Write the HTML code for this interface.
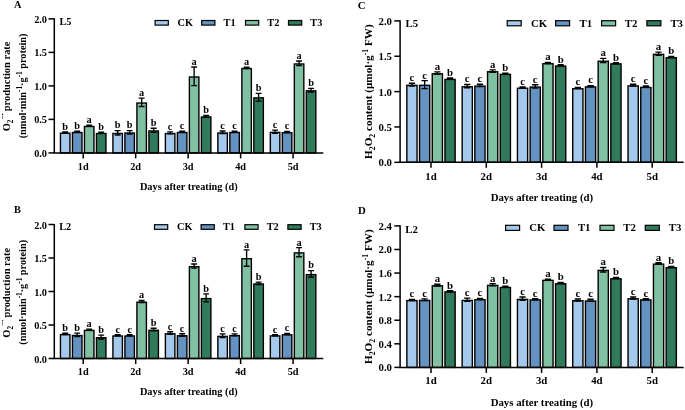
<!DOCTYPE html>
<html><head><meta charset="utf-8"><style>
html,body{margin:0;padding:0;background:#fff;width:685px;height:410px;overflow:hidden}
svg{display:block;will-change:transform}
text{font-family:"Liberation Serif", serif;font-weight:bold;fill:#000}
</style></head><body>
<svg width="685" height="410" viewBox="0 0 685 410">
<rect width="685" height="410" fill="#fff"/>
<rect x="60.45" y="133.2" width="9.5" height="19.7" fill="#a5c9ec" stroke="#000" stroke-width="1.4"/>
<path d="M65.2 131.86V133.14M62.26 131.86H68.14M62.26 133.14H68.14" stroke="#000" stroke-width="1.35" fill="none"/>
<text x="65.2" y="129.76" text-anchor="middle" font-size="10.3">b</text>
<rect x="72.45" y="132.53" width="9.5" height="20.37" fill="#6492c1" stroke="#000" stroke-width="1.4"/>
<path d="M77.2 131.23V132.43M74.26 131.23H80.14M74.26 132.43H80.14" stroke="#000" stroke-width="1.35" fill="none"/>
<text x="77.2" y="129.13" text-anchor="middle" font-size="10.3">b</text>
<rect x="84.45" y="126.5" width="9.5" height="26.4" fill="#80c1a3" stroke="#000" stroke-width="1.4"/>
<path d="M89.2 125.16V126.44M86.26 125.16H92.14M86.26 126.44H92.14" stroke="#000" stroke-width="1.35" fill="none"/>
<text x="89.2" y="123.06" text-anchor="middle" font-size="10.3">a</text>
<rect x="96.45" y="133.53" width="9.5" height="19.37" fill="#2f7b5b" stroke="#000" stroke-width="1.4"/>
<path d="M101.2 132.23V133.43M98.26 132.23H104.14M98.26 133.43H104.14" stroke="#000" stroke-width="1.35" fill="none"/>
<text x="101.2" y="130.13" text-anchor="middle" font-size="10.3">b</text>
<rect x="112.92" y="133.47" width="9.5" height="19.43" fill="#a5c9ec" stroke="#000" stroke-width="1.4"/>
<path d="M117.67 130.59V134.95M114.73 130.59H120.61M114.73 134.95H120.61" stroke="#000" stroke-width="1.35" fill="none"/>
<text x="117.67" y="128.49" text-anchor="middle" font-size="10.3">b</text>
<rect x="124.92" y="133" width="9.5" height="19.9" fill="#6492c1" stroke="#000" stroke-width="1.4"/>
<path d="M129.67 130.59V134.01M126.73 130.59H132.61M126.73 134.01H132.61" stroke="#000" stroke-width="1.35" fill="none"/>
<text x="129.67" y="128.49" text-anchor="middle" font-size="10.3">b</text>
<rect x="136.92" y="103.05" width="9.5" height="49.85" fill="#80c1a3" stroke="#000" stroke-width="1.4"/>
<path d="M141.67 98.16V106.54M138.73 98.16H144.61M138.73 106.54H144.61" stroke="#000" stroke-width="1.35" fill="none"/>
<text x="141.67" y="96.06" text-anchor="middle" font-size="10.3">a</text>
<rect x="148.92" y="130.99" width="9.5" height="21.91" fill="#2f7b5b" stroke="#000" stroke-width="1.4"/>
<path d="M153.67 128.24V132.34M150.73 128.24H156.61M150.73 132.34H156.61" stroke="#000" stroke-width="1.35" fill="none"/>
<text x="153.67" y="126.14" text-anchor="middle" font-size="10.3">b</text>
<rect x="165.39" y="133.53" width="9.5" height="19.37" fill="#a5c9ec" stroke="#000" stroke-width="1.4"/>
<path d="M170.14 131.86V133.81M167.2 131.86H173.08M167.2 133.81H173.08" stroke="#000" stroke-width="1.35" fill="none"/>
<text x="170.14" y="129.76" text-anchor="middle" font-size="10.3">c</text>
<rect x="177.39" y="132.53" width="9.5" height="20.37" fill="#6492c1" stroke="#000" stroke-width="1.4"/>
<path d="M182.14 131.23V132.43M179.2 131.23H185.08M179.2 132.43H185.08" stroke="#000" stroke-width="1.35" fill="none"/>
<text x="182.14" y="129.13" text-anchor="middle" font-size="10.3">c</text>
<rect x="189.39" y="76.99" width="9.5" height="75.91" fill="#80c1a3" stroke="#000" stroke-width="1.4"/>
<path d="M194.14 67V85.57M191.2 67H197.08M191.2 85.57H197.08" stroke="#000" stroke-width="1.35" fill="none"/>
<text x="194.14" y="64.9" text-anchor="middle" font-size="10.3">a</text>
<rect x="201.39" y="116.99" width="9.5" height="35.91" fill="#2f7b5b" stroke="#000" stroke-width="1.4"/>
<path d="M206.14 115.31V117.26M203.2 115.31H209.08M203.2 117.26H209.08" stroke="#000" stroke-width="1.35" fill="none"/>
<text x="206.14" y="113.21" text-anchor="middle" font-size="10.3">b</text>
<rect x="217.86" y="133" width="9.5" height="19.9" fill="#a5c9ec" stroke="#000" stroke-width="1.4"/>
<path d="M222.61 130.99V133.61M219.67 130.99H225.55M219.67 133.61H225.55" stroke="#000" stroke-width="1.35" fill="none"/>
<text x="222.61" y="128.89" text-anchor="middle" font-size="10.3">c</text>
<rect x="229.86" y="132.53" width="9.5" height="20.37" fill="#6492c1" stroke="#000" stroke-width="1.4"/>
<path d="M234.61 131.23V132.43M231.67 131.23H237.55M231.67 132.43H237.55" stroke="#000" stroke-width="1.35" fill="none"/>
<text x="234.61" y="129.13" text-anchor="middle" font-size="10.3">c</text>
<rect x="241.86" y="68.55" width="9.5" height="84.35" fill="#80c1a3" stroke="#000" stroke-width="1.4"/>
<path d="M246.61 67.25V68.45M243.67 67.25H249.55M243.67 68.45H249.55" stroke="#000" stroke-width="1.35" fill="none"/>
<text x="246.61" y="65.15" text-anchor="middle" font-size="10.3">a</text>
<rect x="253.86" y="97.89" width="9.5" height="55.01" fill="#2f7b5b" stroke="#000" stroke-width="1.4"/>
<path d="M258.61 93.34V101.05M255.67 93.34H261.55M255.67 101.05H261.55" stroke="#000" stroke-width="1.35" fill="none"/>
<text x="258.61" y="91.24" text-anchor="middle" font-size="10.3">b</text>
<rect x="270.33" y="132.4" width="9.5" height="20.5" fill="#a5c9ec" stroke="#000" stroke-width="1.4"/>
<path d="M275.08 130.05V133.34M272.14 130.05H278.02M272.14 133.34H278.02" stroke="#000" stroke-width="1.35" fill="none"/>
<text x="275.08" y="127.95" text-anchor="middle" font-size="10.3">c</text>
<rect x="282.33" y="132.73" width="9.5" height="20.17" fill="#6492c1" stroke="#000" stroke-width="1.4"/>
<path d="M287.08 131.43V132.63M284.14 131.43H290.02M284.14 132.63H290.02" stroke="#000" stroke-width="1.35" fill="none"/>
<text x="287.08" y="129.33" text-anchor="middle" font-size="10.3">c</text>
<rect x="294.33" y="63.99" width="9.5" height="88.91" fill="#80c1a3" stroke="#000" stroke-width="1.4"/>
<path d="M299.08 60.97V65.6M296.14 60.97H302.02M296.14 65.6H302.02" stroke="#000" stroke-width="1.35" fill="none"/>
<text x="299.08" y="58.87" text-anchor="middle" font-size="10.3">a</text>
<rect x="306.33" y="90.86" width="9.5" height="62.04" fill="#2f7b5b" stroke="#000" stroke-width="1.4"/>
<path d="M311.08 88.31V92M308.14 88.31H314.02M308.14 92H314.02" stroke="#000" stroke-width="1.35" fill="none"/>
<text x="311.08" y="86.21" text-anchor="middle" font-size="10.3">b</text>
<path d="M54.3 18.3V152.9H323.3" stroke="#000" stroke-width="1.5" fill="none"/>
<path d="M48.5 152.9H54.3" stroke="#000" stroke-width="1.5"/>
<text x="47" y="156.9" text-anchor="end" font-size="10.3">0.0</text>
<path d="M48.5 119.4H54.3" stroke="#000" stroke-width="1.5"/>
<text x="47" y="123.4" text-anchor="end" font-size="10.3">0.5</text>
<path d="M48.5 85.9H54.3" stroke="#000" stroke-width="1.5"/>
<text x="47" y="89.9" text-anchor="end" font-size="10.3">1.0</text>
<path d="M48.5 52.4H54.3" stroke="#000" stroke-width="1.5"/>
<text x="47" y="56.4" text-anchor="end" font-size="10.3">1.5</text>
<path d="M48.5 18.9H54.3" stroke="#000" stroke-width="1.5"/>
<text x="47" y="22.9" text-anchor="end" font-size="10.3">2.0</text>
<path d="M83.2 152.9V158.4" stroke="#000" stroke-width="1.5"/>
<text x="83.2" y="169.6" text-anchor="middle" font-size="10.3">1d</text>
<path d="M135.67 152.9V158.4" stroke="#000" stroke-width="1.5"/>
<text x="135.67" y="169.6" text-anchor="middle" font-size="10.3">2d</text>
<path d="M188.14 152.9V158.4" stroke="#000" stroke-width="1.5"/>
<text x="188.14" y="169.6" text-anchor="middle" font-size="10.3">3d</text>
<path d="M240.61 152.9V158.4" stroke="#000" stroke-width="1.5"/>
<text x="240.61" y="169.6" text-anchor="middle" font-size="10.3">4d</text>
<path d="M293.08 152.9V158.4" stroke="#000" stroke-width="1.5"/>
<text x="293.08" y="169.6" text-anchor="middle" font-size="10.3">5d</text>
<text x="188.8" y="189.6" text-anchor="middle" font-size="10.3">Days after treating (d)</text>
<rect x="155.1" y="20.5" width="13.2" height="4.6" fill="#a5c9ec" stroke="#000" stroke-width="1.2"/>
<text x="177.6" y="25.8" font-size="10.3">CK</text>
<rect x="201.7" y="20.5" width="13.2" height="4.6" fill="#6492c1" stroke="#000" stroke-width="1.2"/>
<text x="223.6" y="25.8" font-size="10.3">T1</text>
<rect x="245.5" y="20.5" width="13.2" height="4.6" fill="#80c1a3" stroke="#000" stroke-width="1.2"/>
<text x="267.3" y="25.8" font-size="10.3">T2</text>
<rect x="288.5" y="20.5" width="13.2" height="4.6" fill="#2f7b5b" stroke="#000" stroke-width="1.2"/>
<text x="310.3" y="25.8" font-size="10.3">T3</text>
<text x="14" y="8" font-size="10.3">A</text>
<text x="59.5" y="25" font-size="10.3">L5</text>
<text transform="translate(10.3 86.4) rotate(-90)" text-anchor="middle" font-size="10.45">O<tspan font-size="7.21" dy="2.2">2</tspan><tspan font-size="7.21" dy="-7.3">−·</tspan><tspan dy="5.1" dx="-0.8"> production rate</tspan></text>
<text transform="translate(26.3 85.9) rotate(-90)" text-anchor="middle" font-size="10.3">(nmol·min<tspan font-size="7.21" dy="-4">-1</tspan><tspan dy="4">·g</tspan><tspan font-size="7.21" dy="-4">-1</tspan><tspan dy="4"> protein)</tspan></text>
<rect x="60.45" y="334.58" width="9.5" height="23.92" fill="#a5c9ec" stroke="#000" stroke-width="1.4"/>
<path d="M65.2 333.24V334.52M62.26 333.24H68.14M62.26 334.52H68.14" stroke="#000" stroke-width="1.35" fill="none"/>
<text x="65.2" y="331.14" text-anchor="middle" font-size="10.3">b</text>
<rect x="72.45" y="335.52" width="9.5" height="22.98" fill="#6492c1" stroke="#000" stroke-width="1.4"/>
<path d="M77.2 333.17V336.46M74.26 333.17H80.14M74.26 336.46H80.14" stroke="#000" stroke-width="1.35" fill="none"/>
<text x="77.2" y="331.07" text-anchor="middle" font-size="10.3">b</text>
<rect x="84.45" y="330.42" width="9.5" height="28.08" fill="#80c1a3" stroke="#000" stroke-width="1.4"/>
<path d="M89.2 329.08V330.36M86.26 329.08H92.14M86.26 330.36H92.14" stroke="#000" stroke-width="1.35" fill="none"/>
<text x="89.2" y="326.98" text-anchor="middle" font-size="10.3">a</text>
<rect x="96.45" y="337.73" width="9.5" height="20.77" fill="#2f7b5b" stroke="#000" stroke-width="1.4"/>
<path d="M101.2 335.05V339.01M98.26 335.05H104.14M98.26 339.01H104.14" stroke="#000" stroke-width="1.35" fill="none"/>
<text x="101.2" y="332.95" text-anchor="middle" font-size="10.3">b</text>
<rect x="112.92" y="335.99" width="9.5" height="22.51" fill="#a5c9ec" stroke="#000" stroke-width="1.4"/>
<path d="M117.67 334.69V335.89M114.73 334.69H120.61M114.73 335.89H120.61" stroke="#000" stroke-width="1.35" fill="none"/>
<text x="117.67" y="332.59" text-anchor="middle" font-size="10.3">c</text>
<rect x="124.92" y="335.99" width="9.5" height="22.51" fill="#6492c1" stroke="#000" stroke-width="1.4"/>
<path d="M129.67 334.69V335.89M126.73 334.69H132.61M126.73 335.89H132.61" stroke="#000" stroke-width="1.35" fill="none"/>
<text x="129.67" y="332.59" text-anchor="middle" font-size="10.3">c</text>
<rect x="136.92" y="302.22" width="9.5" height="56.28" fill="#80c1a3" stroke="#000" stroke-width="1.4"/>
<path d="M141.67 300.54V302.49M138.73 300.54H144.61M138.73 302.49H144.61" stroke="#000" stroke-width="1.35" fill="none"/>
<text x="141.67" y="298.44" text-anchor="middle" font-size="10.3">a</text>
<rect x="148.92" y="330.29" width="9.5" height="28.21" fill="#2f7b5b" stroke="#000" stroke-width="1.4"/>
<path d="M153.67 328.28V330.9M150.73 328.28H156.61M150.73 330.9H156.61" stroke="#000" stroke-width="1.35" fill="none"/>
<text x="153.67" y="326.18" text-anchor="middle" font-size="10.3">b</text>
<rect x="165.39" y="333.77" width="9.5" height="24.73" fill="#a5c9ec" stroke="#000" stroke-width="1.4"/>
<path d="M170.14 331.76V334.38M167.2 331.76H173.08M167.2 334.38H173.08" stroke="#000" stroke-width="1.35" fill="none"/>
<text x="170.14" y="329.66" text-anchor="middle" font-size="10.3">c</text>
<rect x="177.39" y="335.78" width="9.5" height="22.72" fill="#6492c1" stroke="#000" stroke-width="1.4"/>
<path d="M182.14 333.77V336.39M179.2 333.77H185.08M179.2 336.39H185.08" stroke="#000" stroke-width="1.35" fill="none"/>
<text x="182.14" y="331.67" text-anchor="middle" font-size="10.3">c</text>
<rect x="189.39" y="266.71" width="9.5" height="91.79" fill="#80c1a3" stroke="#000" stroke-width="1.4"/>
<path d="M194.14 263.96V268.06M191.2 263.96H197.08M191.2 268.06H197.08" stroke="#000" stroke-width="1.35" fill="none"/>
<text x="194.14" y="261.86" text-anchor="middle" font-size="10.3">a</text>
<rect x="201.39" y="298.6" width="9.5" height="59.9" fill="#2f7b5b" stroke="#000" stroke-width="1.4"/>
<path d="M206.14 293.91V301.89M203.2 293.91H209.08M203.2 301.89H209.08" stroke="#000" stroke-width="1.35" fill="none"/>
<text x="206.14" y="291.81" text-anchor="middle" font-size="10.3">b</text>
<rect x="217.86" y="336.39" width="9.5" height="22.11" fill="#a5c9ec" stroke="#000" stroke-width="1.4"/>
<path d="M222.61 333.84V337.53M219.67 333.84H225.55M219.67 337.53H225.55" stroke="#000" stroke-width="1.35" fill="none"/>
<text x="222.61" y="331.74" text-anchor="middle" font-size="10.3">c</text>
<rect x="229.86" y="335.58" width="9.5" height="22.92" fill="#6492c1" stroke="#000" stroke-width="1.4"/>
<path d="M234.61 333.91V335.86M231.67 333.91H237.55M231.67 335.86H237.55" stroke="#000" stroke-width="1.35" fill="none"/>
<text x="234.61" y="331.81" text-anchor="middle" font-size="10.3">c</text>
<rect x="241.86" y="258.73" width="9.5" height="99.77" fill="#80c1a3" stroke="#000" stroke-width="1.4"/>
<path d="M246.61 249.82V266.25M243.67 249.82H249.55M243.67 266.25H249.55" stroke="#000" stroke-width="1.35" fill="none"/>
<text x="246.61" y="247.72" text-anchor="middle" font-size="10.3">a</text>
<rect x="253.86" y="283.99" width="9.5" height="74.51" fill="#2f7b5b" stroke="#000" stroke-width="1.4"/>
<path d="M258.61 282.12V284.47M255.67 282.12H261.55M255.67 284.47H261.55" stroke="#000" stroke-width="1.35" fill="none"/>
<text x="258.61" y="280.02" text-anchor="middle" font-size="10.3">b</text>
<rect x="270.33" y="335.92" width="9.5" height="22.58" fill="#a5c9ec" stroke="#000" stroke-width="1.4"/>
<path d="M275.08 334.62V335.82M272.14 334.62H278.02M272.14 335.82H278.02" stroke="#000" stroke-width="1.35" fill="none"/>
<text x="275.08" y="332.52" text-anchor="middle" font-size="10.3">c</text>
<rect x="282.33" y="334.78" width="9.5" height="23.72" fill="#6492c1" stroke="#000" stroke-width="1.4"/>
<path d="M287.08 333.48V334.68M284.14 333.48H290.02M284.14 334.68H290.02" stroke="#000" stroke-width="1.35" fill="none"/>
<text x="287.08" y="331.38" text-anchor="middle" font-size="10.3">c</text>
<rect x="294.33" y="252.91" width="9.5" height="105.59" fill="#80c1a3" stroke="#000" stroke-width="1.4"/>
<path d="M299.08 247.68V256.73M296.14 247.68H302.02M296.14 256.73H302.02" stroke="#000" stroke-width="1.35" fill="none"/>
<text x="299.08" y="245.58" text-anchor="middle" font-size="10.3">a</text>
<rect x="306.33" y="274.61" width="9.5" height="83.89" fill="#2f7b5b" stroke="#000" stroke-width="1.4"/>
<path d="M311.08 270.59V277.23M308.14 270.59H314.02M308.14 277.23H314.02" stroke="#000" stroke-width="1.35" fill="none"/>
<text x="311.08" y="268.49" text-anchor="middle" font-size="10.3">b</text>
<path d="M54.3 223.9V358.5H323.3" stroke="#000" stroke-width="1.5" fill="none"/>
<path d="M48.5 358.5H54.3" stroke="#000" stroke-width="1.5"/>
<text x="47" y="362.5" text-anchor="end" font-size="10.3">0.0</text>
<path d="M48.5 325H54.3" stroke="#000" stroke-width="1.5"/>
<text x="47" y="329" text-anchor="end" font-size="10.3">0.5</text>
<path d="M48.5 291.5H54.3" stroke="#000" stroke-width="1.5"/>
<text x="47" y="295.5" text-anchor="end" font-size="10.3">1.0</text>
<path d="M48.5 258H54.3" stroke="#000" stroke-width="1.5"/>
<text x="47" y="262" text-anchor="end" font-size="10.3">1.5</text>
<path d="M48.5 224.5H54.3" stroke="#000" stroke-width="1.5"/>
<text x="47" y="228.5" text-anchor="end" font-size="10.3">2.0</text>
<path d="M83.2 358.5V364" stroke="#000" stroke-width="1.5"/>
<text x="83.2" y="375.2" text-anchor="middle" font-size="10.3">1d</text>
<path d="M135.67 358.5V364" stroke="#000" stroke-width="1.5"/>
<text x="135.67" y="375.2" text-anchor="middle" font-size="10.3">2d</text>
<path d="M188.14 358.5V364" stroke="#000" stroke-width="1.5"/>
<text x="188.14" y="375.2" text-anchor="middle" font-size="10.3">3d</text>
<path d="M240.61 358.5V364" stroke="#000" stroke-width="1.5"/>
<text x="240.61" y="375.2" text-anchor="middle" font-size="10.3">4d</text>
<path d="M293.08 358.5V364" stroke="#000" stroke-width="1.5"/>
<text x="293.08" y="375.2" text-anchor="middle" font-size="10.3">5d</text>
<text x="188.8" y="395.2" text-anchor="middle" font-size="10.3">Days after treating (d)</text>
<rect x="154.5" y="224.7" width="13.2" height="4.6" fill="#a5c9ec" stroke="#000" stroke-width="1.2"/>
<text x="177" y="230" font-size="10.3">CK</text>
<rect x="201.1" y="224.7" width="13.2" height="4.6" fill="#6492c1" stroke="#000" stroke-width="1.2"/>
<text x="223" y="230" font-size="10.3">T1</text>
<rect x="244.9" y="224.7" width="13.2" height="4.6" fill="#80c1a3" stroke="#000" stroke-width="1.2"/>
<text x="266.7" y="230" font-size="10.3">T2</text>
<rect x="287.9" y="224.7" width="13.2" height="4.6" fill="#2f7b5b" stroke="#000" stroke-width="1.2"/>
<text x="309.7" y="230" font-size="10.3">T3</text>
<text x="14" y="213.1" font-size="10.3">B</text>
<text x="59.2" y="230.1" font-size="10.3">L2</text>
<text transform="translate(10.3 292.8) rotate(-90)" text-anchor="middle" font-size="10.45">O<tspan font-size="7.21" dy="2.2">2</tspan><tspan font-size="7.21" dy="-7.3">−·</tspan><tspan dy="5.1" dx="-0.8"> production rate</tspan></text>
<text transform="translate(26.3 292.3) rotate(-90)" text-anchor="middle" font-size="10.3">(nmol·min<tspan font-size="7.21" dy="-4">-1</tspan><tspan dy="4">·g</tspan><tspan font-size="7.21" dy="-4">-1</tspan><tspan dy="4"> protein)</tspan></text>
<rect x="406.85" y="85.33" width="10.2" height="76.97" fill="#a5c9ec" stroke="#000" stroke-width="1.4"/>
<path d="M411.95 83.22V86.03M408.82 83.22H415.08M408.82 86.03H415.08" stroke="#000" stroke-width="1.35" fill="none"/>
<text x="411.95" y="81.12" text-anchor="middle" font-size="10.8">c</text>
<rect x="419.55" y="85.33" width="10.2" height="76.97" fill="#6492c1" stroke="#000" stroke-width="1.4"/>
<path d="M424.65 80.69V88.56M421.52 80.69H427.78M421.52 88.56H427.78" stroke="#000" stroke-width="1.35" fill="none"/>
<text x="424.65" y="78.59" text-anchor="middle" font-size="10.8">c</text>
<rect x="432.25" y="73.81" width="10.2" height="88.49" fill="#80c1a3" stroke="#000" stroke-width="1.4"/>
<path d="M437.35 71.91V74.3M434.22 71.91H440.48M434.22 74.3H440.48" stroke="#000" stroke-width="1.35" fill="none"/>
<text x="437.35" y="69.81" text-anchor="middle" font-size="10.8">a</text>
<rect x="444.95" y="79.43" width="10.2" height="82.87" fill="#2f7b5b" stroke="#000" stroke-width="1.4"/>
<path d="M450.05 78.02V79.43M446.92 78.02H453.18M446.92 79.43H453.18" stroke="#000" stroke-width="1.35" fill="none"/>
<text x="450.05" y="75.92" text-anchor="middle" font-size="10.8">b</text>
<rect x="462.15" y="86.8" width="10.2" height="75.5" fill="#a5c9ec" stroke="#000" stroke-width="1.4"/>
<path d="M467.25 84.48V87.72M464.12 84.48H470.38M464.12 87.72H470.38" stroke="#000" stroke-width="1.35" fill="none"/>
<text x="467.25" y="82.38" text-anchor="middle" font-size="10.8">c</text>
<rect x="474.85" y="86.1" width="10.2" height="76.2" fill="#6492c1" stroke="#000" stroke-width="1.4"/>
<path d="M479.95 84.2V86.6M476.82 84.2H483.08M476.82 86.6H483.08" stroke="#000" stroke-width="1.35" fill="none"/>
<text x="479.95" y="82.1" text-anchor="middle" font-size="10.8">c</text>
<rect x="487.55" y="71.77" width="10.2" height="90.53" fill="#80c1a3" stroke="#000" stroke-width="1.4"/>
<path d="M492.65 69.8V72.34M489.52 69.8H495.78M489.52 72.34H495.78" stroke="#000" stroke-width="1.35" fill="none"/>
<text x="492.65" y="67.7" text-anchor="middle" font-size="10.8">a</text>
<rect x="500.25" y="74.37" width="10.2" height="87.93" fill="#2f7b5b" stroke="#000" stroke-width="1.4"/>
<path d="M505.35 73.07V74.27M502.22 73.07H508.48M502.22 74.27H508.48" stroke="#000" stroke-width="1.35" fill="none"/>
<text x="505.35" y="70.97" text-anchor="middle" font-size="10.8">b</text>
<rect x="517.45" y="88.28" width="10.2" height="74.02" fill="#a5c9ec" stroke="#000" stroke-width="1.4"/>
<path d="M522.55 86.98V88.18M519.42 86.98H525.68M519.42 88.18H525.68" stroke="#000" stroke-width="1.35" fill="none"/>
<text x="522.55" y="84.88" text-anchor="middle" font-size="10.8">c</text>
<rect x="530.15" y="87.08" width="10.2" height="75.22" fill="#6492c1" stroke="#000" stroke-width="1.4"/>
<path d="M535.25 84.77V88M532.12 84.77H538.38M532.12 88H538.38" stroke="#000" stroke-width="1.35" fill="none"/>
<text x="535.25" y="82.67" text-anchor="middle" font-size="10.8">c</text>
<rect x="542.85" y="63.69" width="10.2" height="98.61" fill="#80c1a3" stroke="#000" stroke-width="1.4"/>
<path d="M547.95 62.39V63.59M544.82 62.39H551.08M544.82 63.59H551.08" stroke="#000" stroke-width="1.35" fill="none"/>
<text x="547.95" y="60.29" text-anchor="middle" font-size="10.8">a</text>
<rect x="555.55" y="66.08" width="10.2" height="96.22" fill="#2f7b5b" stroke="#000" stroke-width="1.4"/>
<path d="M560.65 64.78V65.98M557.52 64.78H563.78M557.52 65.98H563.78" stroke="#000" stroke-width="1.35" fill="none"/>
<text x="560.65" y="62.68" text-anchor="middle" font-size="10.8">b</text>
<rect x="572.75" y="88.7" width="10.2" height="73.6" fill="#a5c9ec" stroke="#000" stroke-width="1.4"/>
<path d="M577.85 87.4V88.6M574.72 87.4H580.98M574.72 88.6H580.98" stroke="#000" stroke-width="1.35" fill="none"/>
<text x="577.85" y="85.3" text-anchor="middle" font-size="10.8">c</text>
<rect x="585.45" y="86.87" width="10.2" height="75.43" fill="#6492c1" stroke="#000" stroke-width="1.4"/>
<path d="M590.55 85.57V86.77M587.42 85.57H593.68M587.42 86.77H593.68" stroke="#000" stroke-width="1.35" fill="none"/>
<text x="590.55" y="83.47" text-anchor="middle" font-size="10.8">c</text>
<rect x="598.15" y="61.23" width="10.2" height="101.07" fill="#80c1a3" stroke="#000" stroke-width="1.4"/>
<path d="M603.25 58.42V62.64M600.12 58.42H606.38M600.12 62.64H606.38" stroke="#000" stroke-width="1.35" fill="none"/>
<text x="603.25" y="56.32" text-anchor="middle" font-size="10.8">a</text>
<rect x="610.85" y="63.9" width="10.2" height="98.4" fill="#2f7b5b" stroke="#000" stroke-width="1.4"/>
<path d="M615.95 62.6V63.8M612.82 62.6H619.08M612.82 63.8H619.08" stroke="#000" stroke-width="1.35" fill="none"/>
<text x="615.95" y="60.5" text-anchor="middle" font-size="10.8">b</text>
<rect x="628.05" y="85.89" width="10.2" height="76.41" fill="#a5c9ec" stroke="#000" stroke-width="1.4"/>
<path d="M633.15 84.2V86.18M630.02 84.2H636.28M630.02 86.18H636.28" stroke="#000" stroke-width="1.35" fill="none"/>
<text x="633.15" y="82.1" text-anchor="middle" font-size="10.8">c</text>
<rect x="640.75" y="87.44" width="10.2" height="74.87" fill="#6492c1" stroke="#000" stroke-width="1.4"/>
<path d="M645.85 86.03V87.44M642.72 86.03H648.98M642.72 87.44H648.98" stroke="#000" stroke-width="1.35" fill="none"/>
<text x="645.85" y="83.93" text-anchor="middle" font-size="10.8">c</text>
<rect x="653.45" y="54.35" width="10.2" height="107.95" fill="#80c1a3" stroke="#000" stroke-width="1.4"/>
<path d="M658.55 52.1V55.2M655.42 52.1H661.68M655.42 55.2H661.68" stroke="#000" stroke-width="1.35" fill="none"/>
<text x="658.55" y="50" text-anchor="middle" font-size="10.8">a</text>
<rect x="666.15" y="57.72" width="10.2" height="104.58" fill="#2f7b5b" stroke="#000" stroke-width="1.4"/>
<path d="M671.25 56.42V57.62M668.12 56.42H674.38M668.12 57.62H674.38" stroke="#000" stroke-width="1.35" fill="none"/>
<text x="671.25" y="54.32" text-anchor="middle" font-size="10.8">b</text>
<path d="M400.1 20.3V162.3H683.7" stroke="#000" stroke-width="1.5" fill="none"/>
<path d="M394.3 162.3H400.1" stroke="#000" stroke-width="1.5"/>
<text x="392" y="166.3" text-anchor="end" font-size="10.8">0.0</text>
<path d="M394.3 126.95H400.1" stroke="#000" stroke-width="1.5"/>
<text x="392" y="130.95" text-anchor="end" font-size="10.8">0.5</text>
<path d="M394.3 91.6H400.1" stroke="#000" stroke-width="1.5"/>
<text x="392" y="95.6" text-anchor="end" font-size="10.8">1.0</text>
<path d="M394.3 56.25H400.1" stroke="#000" stroke-width="1.5"/>
<text x="392" y="60.25" text-anchor="end" font-size="10.8">1.5</text>
<path d="M394.3 20.9H400.1" stroke="#000" stroke-width="1.5"/>
<text x="392" y="24.9" text-anchor="end" font-size="10.8">2.0</text>
<path d="M431 162.3V167.8" stroke="#000" stroke-width="1.5"/>
<text x="431" y="179.5" text-anchor="middle" font-size="10.8">1d</text>
<path d="M486.3 162.3V167.8" stroke="#000" stroke-width="1.5"/>
<text x="486.3" y="179.5" text-anchor="middle" font-size="10.8">2d</text>
<path d="M541.6 162.3V167.8" stroke="#000" stroke-width="1.5"/>
<text x="541.6" y="179.5" text-anchor="middle" font-size="10.8">3d</text>
<path d="M596.9 162.3V167.8" stroke="#000" stroke-width="1.5"/>
<text x="596.9" y="179.5" text-anchor="middle" font-size="10.8">4d</text>
<path d="M652.2 162.3V167.8" stroke="#000" stroke-width="1.5"/>
<text x="652.2" y="179.5" text-anchor="middle" font-size="10.8">5d</text>
<text x="541.9" y="200.7" text-anchor="middle" font-size="10.8">Days after treating (d)</text>
<rect x="507.2" y="20.7" width="14" height="5.1" fill="#a5c9ec" stroke="#000" stroke-width="1.2"/>
<text x="530.9" y="26.7" font-size="10.8">CK</text>
<rect x="555.6" y="20.7" width="14" height="5.1" fill="#6492c1" stroke="#000" stroke-width="1.2"/>
<text x="579.5" y="26.7" font-size="10.8">T1</text>
<rect x="601.6" y="20.7" width="14" height="5.1" fill="#80c1a3" stroke="#000" stroke-width="1.2"/>
<text x="624.8" y="26.7" font-size="10.8">T2</text>
<rect x="646.9" y="20.7" width="14" height="5.1" fill="#2f7b5b" stroke="#000" stroke-width="1.2"/>
<text x="670.4" y="26.7" font-size="10.8">T3</text>
<text x="357.8" y="9.2" font-size="10.8">C</text>
<text x="405.5" y="27" font-size="10.8">L5</text>
<text transform="translate(372.3 91.6) rotate(-90)" text-anchor="middle" font-size="11.2">H<tspan font-size="7.84" dy="2.2">2</tspan><tspan dy="-2.2">O</tspan><tspan font-size="7.84" dy="2.2">2</tspan><tspan dy="-2.2"> content (μmol·g</tspan><tspan font-size="7.84" dy="-4">-1</tspan><tspan dy="4"> FW)</tspan></text>
<rect x="406.85" y="300.61" width="10.2" height="66.79" fill="#a5c9ec" stroke="#000" stroke-width="1.4"/>
<path d="M411.95 299.31V300.51M408.82 299.31H415.08M408.82 300.51H415.08" stroke="#000" stroke-width="1.35" fill="none"/>
<text x="411.95" y="297.21" text-anchor="middle" font-size="10.8">c</text>
<rect x="419.55" y="300.43" width="10.2" height="66.97" fill="#6492c1" stroke="#000" stroke-width="1.4"/>
<path d="M424.65 298.85V300.62M421.52 298.85H427.78M421.52 300.62H427.78" stroke="#000" stroke-width="1.35" fill="none"/>
<text x="424.65" y="296.75" text-anchor="middle" font-size="10.8">c</text>
<rect x="432.25" y="285.79" width="10.2" height="81.61" fill="#80c1a3" stroke="#000" stroke-width="1.4"/>
<path d="M437.35 284.2V285.97M434.22 284.2H440.48M434.22 285.97H440.48" stroke="#000" stroke-width="1.35" fill="none"/>
<text x="437.35" y="282.1" text-anchor="middle" font-size="10.8">a</text>
<rect x="444.95" y="291.9" width="10.2" height="75.5" fill="#2f7b5b" stroke="#000" stroke-width="1.4"/>
<path d="M450.05 290.6V291.8M446.92 290.6H453.18M446.92 291.8H453.18" stroke="#000" stroke-width="1.35" fill="none"/>
<text x="450.05" y="288.5" text-anchor="middle" font-size="10.8">b</text>
<rect x="462.15" y="300.43" width="10.2" height="66.97" fill="#a5c9ec" stroke="#000" stroke-width="1.4"/>
<path d="M467.25 298.08V301.39M464.12 298.08H470.38M464.12 301.39H470.38" stroke="#000" stroke-width="1.35" fill="none"/>
<text x="467.25" y="295.98" text-anchor="middle" font-size="10.8">c</text>
<rect x="474.85" y="299.67" width="10.2" height="67.73" fill="#6492c1" stroke="#000" stroke-width="1.4"/>
<path d="M479.95 298.37V299.57M476.82 298.37H483.08M476.82 299.57H483.08" stroke="#000" stroke-width="1.35" fill="none"/>
<text x="479.95" y="296.27" text-anchor="middle" font-size="10.8">c</text>
<rect x="487.55" y="285.37" width="10.2" height="82.03" fill="#80c1a3" stroke="#000" stroke-width="1.4"/>
<path d="M492.65 283.61V285.74M489.52 283.61H495.78M489.52 285.74H495.78" stroke="#000" stroke-width="1.35" fill="none"/>
<text x="492.65" y="281.51" text-anchor="middle" font-size="10.8">a</text>
<rect x="500.25" y="287.49" width="10.2" height="79.91" fill="#2f7b5b" stroke="#000" stroke-width="1.4"/>
<path d="M505.35 286.19V287.39M502.22 286.19H508.48M502.22 287.39H508.48" stroke="#000" stroke-width="1.35" fill="none"/>
<text x="505.35" y="284.09" text-anchor="middle" font-size="10.8">b</text>
<rect x="517.45" y="299.37" width="10.2" height="68.03" fill="#a5c9ec" stroke="#000" stroke-width="1.4"/>
<path d="M522.55 297.02V300.33M519.42 297.02H525.68M519.42 300.33H525.68" stroke="#000" stroke-width="1.35" fill="none"/>
<text x="522.55" y="294.92" text-anchor="middle" font-size="10.8">c</text>
<rect x="530.15" y="299.9" width="10.2" height="67.5" fill="#6492c1" stroke="#000" stroke-width="1.4"/>
<path d="M535.25 298.6V299.8M532.12 298.6H538.38M532.12 299.8H538.38" stroke="#000" stroke-width="1.35" fill="none"/>
<text x="535.25" y="296.5" text-anchor="middle" font-size="10.8">c</text>
<rect x="542.85" y="280.37" width="10.2" height="87.03" fill="#80c1a3" stroke="#000" stroke-width="1.4"/>
<path d="M547.95 279.07V280.27M544.82 279.07H551.08M544.82 280.27H551.08" stroke="#000" stroke-width="1.35" fill="none"/>
<text x="547.95" y="276.97" text-anchor="middle" font-size="10.8">a</text>
<rect x="555.55" y="283.78" width="10.2" height="83.62" fill="#2f7b5b" stroke="#000" stroke-width="1.4"/>
<path d="M560.65 282.48V283.68M557.52 282.48H563.78M557.52 283.68H563.78" stroke="#000" stroke-width="1.35" fill="none"/>
<text x="560.65" y="280.38" text-anchor="middle" font-size="10.8">b</text>
<rect x="572.75" y="300.73" width="10.2" height="66.67" fill="#a5c9ec" stroke="#000" stroke-width="1.4"/>
<path d="M577.85 298.96V301.09M574.72 298.96H580.98M574.72 301.09H580.98" stroke="#000" stroke-width="1.35" fill="none"/>
<text x="577.85" y="296.86" text-anchor="middle" font-size="10.8">c</text>
<rect x="585.45" y="301.02" width="10.2" height="66.38" fill="#6492c1" stroke="#000" stroke-width="1.4"/>
<path d="M590.55 299.26V301.39M587.42 299.26H593.68M587.42 301.39H593.68" stroke="#000" stroke-width="1.35" fill="none"/>
<text x="590.55" y="297.16" text-anchor="middle" font-size="10.8">c</text>
<rect x="598.15" y="270.43" width="10.2" height="96.97" fill="#80c1a3" stroke="#000" stroke-width="1.4"/>
<path d="M603.25 267.49V271.97M600.12 267.49H606.38M600.12 271.97H606.38" stroke="#000" stroke-width="1.35" fill="none"/>
<text x="603.25" y="265.39" text-anchor="middle" font-size="10.8">a</text>
<rect x="610.85" y="278.78" width="10.2" height="88.62" fill="#2f7b5b" stroke="#000" stroke-width="1.4"/>
<path d="M615.95 277.48V278.68M612.82 277.48H619.08M612.82 278.68H619.08" stroke="#000" stroke-width="1.35" fill="none"/>
<text x="615.95" y="275.38" text-anchor="middle" font-size="10.8">b</text>
<rect x="628.05" y="298.79" width="10.2" height="68.61" fill="#a5c9ec" stroke="#000" stroke-width="1.4"/>
<path d="M633.15 297.02V299.15M630.02 297.02H636.28M630.02 299.15H636.28" stroke="#000" stroke-width="1.35" fill="none"/>
<text x="633.15" y="294.92" text-anchor="middle" font-size="10.8">c</text>
<rect x="640.75" y="299.9" width="10.2" height="67.5" fill="#6492c1" stroke="#000" stroke-width="1.4"/>
<path d="M645.85 298.6V299.8M642.72 298.6H648.98M642.72 299.8H648.98" stroke="#000" stroke-width="1.35" fill="none"/>
<text x="645.85" y="296.5" text-anchor="middle" font-size="10.8">c</text>
<rect x="653.45" y="264.14" width="10.2" height="103.26" fill="#80c1a3" stroke="#000" stroke-width="1.4"/>
<path d="M658.55 262.72V264.15M655.42 262.72H661.68M655.42 264.15H661.68" stroke="#000" stroke-width="1.35" fill="none"/>
<text x="658.55" y="260.62" text-anchor="middle" font-size="10.8">a</text>
<rect x="666.15" y="267.67" width="10.2" height="99.73" fill="#2f7b5b" stroke="#000" stroke-width="1.4"/>
<path d="M671.25 266.37V267.57M668.12 266.37H674.38M668.12 267.57H674.38" stroke="#000" stroke-width="1.35" fill="none"/>
<text x="671.25" y="264.27" text-anchor="middle" font-size="10.8">b</text>
<path d="M400.1 225.3V367.4H683.7" stroke="#000" stroke-width="1.5" fill="none"/>
<path d="M394.3 367.4H400.1" stroke="#000" stroke-width="1.5"/>
<text x="392" y="371.4" text-anchor="end" font-size="10.8">0.0</text>
<path d="M394.3 343.82H400.1" stroke="#000" stroke-width="1.5"/>
<text x="392" y="347.82" text-anchor="end" font-size="10.8">0.4</text>
<path d="M394.3 320.23H400.1" stroke="#000" stroke-width="1.5"/>
<text x="392" y="324.23" text-anchor="end" font-size="10.8">0.8</text>
<path d="M394.3 296.65H400.1" stroke="#000" stroke-width="1.5"/>
<text x="392" y="300.65" text-anchor="end" font-size="10.8">1.2</text>
<path d="M394.3 273.06H400.1" stroke="#000" stroke-width="1.5"/>
<text x="392" y="277.06" text-anchor="end" font-size="10.8">1.6</text>
<path d="M394.3 249.48H400.1" stroke="#000" stroke-width="1.5"/>
<text x="392" y="253.48" text-anchor="end" font-size="10.8">2.0</text>
<path d="M394.3 225.9H400.1" stroke="#000" stroke-width="1.5"/>
<text x="392" y="229.9" text-anchor="end" font-size="10.8">2.4</text>
<path d="M431 367.4V372.9" stroke="#000" stroke-width="1.5"/>
<text x="431" y="384.3" text-anchor="middle" font-size="10.8">1d</text>
<path d="M486.3 367.4V372.9" stroke="#000" stroke-width="1.5"/>
<text x="486.3" y="384.3" text-anchor="middle" font-size="10.8">2d</text>
<path d="M541.6 367.4V372.9" stroke="#000" stroke-width="1.5"/>
<text x="541.6" y="384.3" text-anchor="middle" font-size="10.8">3d</text>
<path d="M596.9 367.4V372.9" stroke="#000" stroke-width="1.5"/>
<text x="596.9" y="384.3" text-anchor="middle" font-size="10.8">4d</text>
<path d="M652.2 367.4V372.9" stroke="#000" stroke-width="1.5"/>
<text x="652.2" y="384.3" text-anchor="middle" font-size="10.8">5d</text>
<text x="541.9" y="405.9" text-anchor="middle" font-size="10.8">Days after treating (d)</text>
<rect x="505.6" y="225.3" width="14" height="5.1" fill="#a5c9ec" stroke="#000" stroke-width="1.2"/>
<text x="529.3" y="231.3" font-size="10.8">CK</text>
<rect x="554" y="225.3" width="14" height="5.1" fill="#6492c1" stroke="#000" stroke-width="1.2"/>
<text x="577.9" y="231.3" font-size="10.8">T1</text>
<rect x="600" y="225.3" width="14" height="5.1" fill="#80c1a3" stroke="#000" stroke-width="1.2"/>
<text x="623.2" y="231.3" font-size="10.8">T2</text>
<rect x="645.3" y="225.3" width="14" height="5.1" fill="#2f7b5b" stroke="#000" stroke-width="1.2"/>
<text x="668.8" y="231.3" font-size="10.8">T3</text>
<text x="357.9" y="214.4" font-size="10.8">D</text>
<text x="405.2" y="232.7" font-size="10.8">L2</text>
<text transform="translate(372.3 296.65) rotate(-90)" text-anchor="middle" font-size="11.2">H<tspan font-size="7.84" dy="2.2">2</tspan><tspan dy="-2.2">O</tspan><tspan font-size="7.84" dy="2.2">2</tspan><tspan dy="-2.2"> content (μmol·g</tspan><tspan font-size="7.84" dy="-4">-1</tspan><tspan dy="4"> FW)</tspan></text>
</svg>
</body></html>
